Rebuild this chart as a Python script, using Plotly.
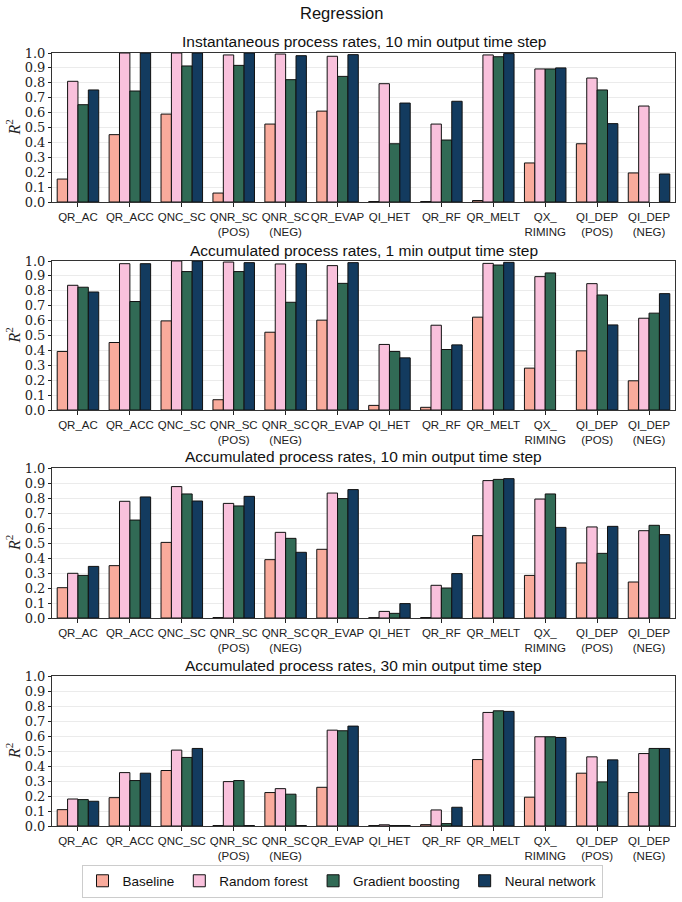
import plotly.graph_objects as go

categories = ["QR_AC", "QR_ACC", "QNC_SC", "QNR_SC<br>(POS)", "QNR_SC<br>(NEG)", "QR_EVAP",
              "QI_HET", "QR_RF", "QR_MELT", "QX_<br>RIMING", "QI_DEP<br>(POS)", "QI_DEP<br>(NEG)"]

models = ["Baseline", "Random forest", "Gradient boosting", "Neural network"]
colors = ["#F9AB9C", "#F9C1DC", "#316A55", "#133B5F"]

panel_titles = [
    "Instantaneous process rates, 10 min output time step",
    "Accumulated process rates, 1 min output time step",
    "Accumulated process rates, 10 min output time step",
    "Accumulated process rates, 30 min output time step",
]

# Panel 1: instantaneous, 10 min
p1_baseline = [0.154, 0.452, 0.59, 0.06, 0.523, 0.61, 0.003, 0.003, 0.01, 0.262, 0.391, 0.195]
p1_rf       = [0.81, 1.0, 1.0, 0.987, 0.993, 0.978, 0.794, 0.523, 0.987, 0.893, 0.832, 0.644]
p1_gb       = [0.653, 0.745, 0.913, 0.917, 0.821, 0.843, 0.391, 0.416, 0.975, 0.893, 0.752, None]
p1_nn       = [0.752, 1.0, 1.0, 1.0, 0.982, 0.989, 0.664, 0.676, 0.996, 0.9, 0.526, 0.188]

# Panel 2: accumulated, 1 min
p2_baseline = [0.393, 0.453, 0.598, 0.069, 0.522, 0.603, 0.031, 0.018, 0.623, 0.281, 0.397, 0.196]
p2_rf       = [0.837, 0.982, 1.0, 0.993, 0.98, 0.969, 0.44, 0.569, 0.984, 0.895, 0.848, 0.616]
p2_gb       = [0.824, 0.728, 0.929, 0.929, 0.723, 0.85, 0.393, 0.406, 0.973, 0.92, 0.772, 0.65]
p2_nn       = [0.792, 0.982, 1.0, 0.989, 0.982, 0.989, 0.35, 0.437, 0.991, None, 0.571, 0.781]

# Panel 3: accumulated, 10 min
p3_baseline = [0.202, 0.349, 0.504, 0.003, 0.389, 0.458, 0.002, 0.003, 0.549, 0.284, 0.367, 0.24]
p3_rf       = [0.298, 0.778, 0.876, 0.764, 0.571, 0.833, 0.044, 0.218, 0.916, 0.793, 0.607, 0.582]
p3_gb       = [0.284, 0.653, 0.827, 0.747, 0.531, 0.796, 0.031, 0.2, 0.924, 0.827, 0.431, 0.618]
p3_nn       = [0.344, 0.807, 0.78, 0.811, 0.438, 0.856, 0.096, 0.296, 0.929, 0.604, 0.611, 0.556]

# Panel 4: accumulated, 30 min
p4_baseline = [0.109, 0.189, 0.37, 0.003, 0.223, 0.258, 0.003, 0.009, 0.443, 0.192, 0.352, 0.223]
p4_rf       = [0.18, 0.356, 0.506, 0.296, 0.249, 0.639, 0.008, 0.107, 0.757, 0.595, 0.461, 0.483]
p4_gb       = [0.176, 0.303, 0.457, 0.303, 0.212, 0.635, 0.003, 0.016, 0.768, 0.595, 0.294, 0.517]
p4_nn       = [0.165, 0.352, 0.517, 0.003, 0.003, 0.666, 0.003, 0.125, 0.764, 0.59, 0.441, 0.517]

panels = [
    [p1_baseline, p1_rf, p1_gb, p1_nn],
    [p2_baseline, p2_rf, p2_gb, p2_nn],
    [p3_baseline, p3_rf, p3_gb, p3_nn],
    [p4_baseline, p4_rf, p4_gb, p4_nn],
]

yticks = [round(0.1 * i, 1) for i in range(11)]

W, H = 682, 902
# plot area pixel positions (top, bottom) for each panel
px_rows = [(53, 202), (261, 410), (468, 618), (676, 826)]
x_left, x_right = 52, 675

fig = go.Figure()
layout = {}
for i, (series, (top, bot)) in enumerate(zip(panels, px_rows)):
    ax = "" if i == 0 else str(i + 1)
    for m, vals, col in zip(models, series, colors):
        fig.add_trace(go.Bar(
            x=categories, y=vals, name=m, marker=dict(color=col, line=dict(color="#111111", width=1)),
            xaxis="x" + ax, yaxis="y" + ax, showlegend=(i == 0), legendgroup=m,
        ))
    layout["xaxis" + ax] = dict(
        domain=[x_left / W, x_right / W], anchor="y" + ax, type="category", automargin=False,
        range=[-0.5, len(categories) - 0.5], showline=True, mirror=True, linecolor="#333333", linewidth=1,
        ticks="outside", ticklen=4, tickcolor="#222222",
        tickfont=dict(family="Liberation Sans", size=11.5, color="#222222"), showgrid=False,
        tickangle=0,
    )
    layout["yaxis" + ax] = dict(
        domain=[(H - bot) / H, (H - top) / H], anchor="x" + ax, range=[0, 1.0], automargin=False,
        tickvals=yticks, ticktext=[f"{v:.1f}" for v in yticks],
        showline=True, mirror=True, linecolor="#333333", linewidth=1,
        ticks="outside", ticklen=3, tickcolor="#222222",
        tickfont=dict(family="DejaVu Serif", size=13, color="#222222"),
        showgrid=True, gridcolor="#ebebeb", gridwidth=1, zeroline=False,
    )

annotations = [dict(text="Regression", x=0.5, y=1 - 13 / H, xref="paper", yref="paper",
                    xanchor="center", yanchor="middle", showarrow=False,
                    font=dict(family="Liberation Sans", size=16.5, color="#111111"))]
for t, (top, bot) in zip(panel_titles, px_rows):
    annotations.append(dict(text=t, x=(x_left + x_right) / 2 / W, y=(H - top + 11) / H,
                            xref="paper", yref="paper", xanchor="center", yanchor="middle",
                            showarrow=False, font=dict(family="Liberation Sans", size=15.5, color="#111111")))
    annotations.append(dict(text="<i>R</i><sup>2</sup>", x=13 / W, y=(H - (top + bot) / 2) / H,
                            xref="paper", yref="paper", xanchor="center", yanchor="middle",
                            textangle=-90, showarrow=False,
                            font=dict(family="Liberation Serif", size=16, color="#222222")))

fig.update_layout(
    width=W, height=H, margin=dict(l=0, r=0, t=0, b=0, pad=0, autoexpand=False),
    paper_bgcolor="white", plot_bgcolor="white",
    barmode="group", bargap=0.2, bargroupgap=0,
    annotations=annotations,
    legend=dict(orientation="h", x=342 / W, y=(H - 881) / H, xanchor="center", yanchor="middle",
                bordercolor="#cccccc", borderwidth=1, bgcolor="white",
                font=dict(family="Liberation Sans", size=13.5, color="#111111"),
                itemwidth=30, traceorder="normal"),
    **layout,
)

fig.write_html("out.html")
